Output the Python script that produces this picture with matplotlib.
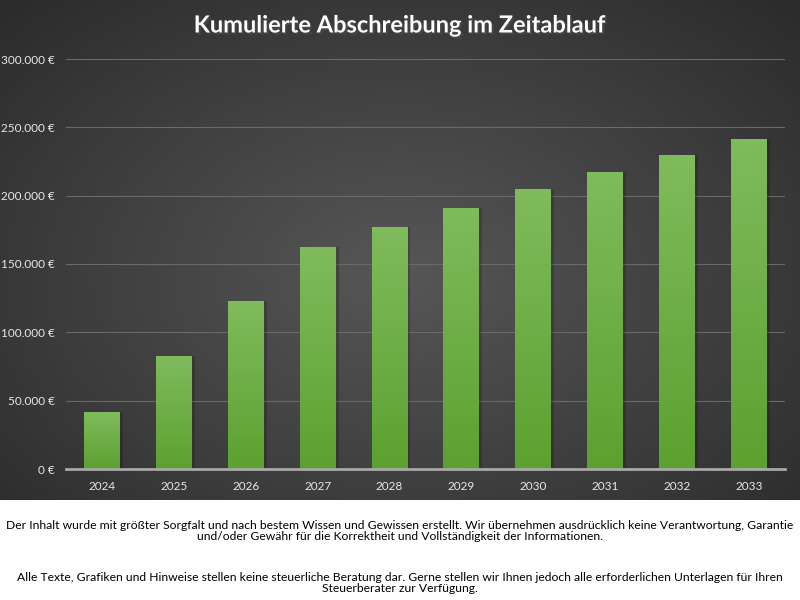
import matplotlib
matplotlib.use("Agg")
import matplotlib.pyplot as plt
import numpy as np
from matplotlib.ticker import FuncFormatter
import matplotlib.patheffects as pe

plt.rcParams['font.family'] = ['Lato', 'DejaVu Sans']

# data
years = ['2024', '2025', '2026', '2027', '2028', '2029', '2030', '2031', '2032', '2033']
cum_abschreibung = [41700, 82700, 122900, 162400, 177100, 191200, 204900, 217600, 230000, 241500]
y_ticks = [0, 50000, 100000, 150000, 200000, 250000, 300000]

title = 'Kumulierte Abschreibung im Zeitablauf'
hinweis_1 = ('Der Inhalt wurde mit größter Sorgfalt und nach bestem Wissen und Gewissen erstellt. '
             'Wir übernehmen ausdrücklich keine Verantwortung, Garantie\n'
             'und/oder Gewähr für die Korrektheit und Vollständigkeit der Informationen.')
hinweis_2 = ('Alle Texte, Grafiken und Hinweise stellen keine steuerliche Beratung dar. '
             'Gerne stellen wir Ihnen jedoch alle erforderlichen Unterlagen für Ihren\n'
             'Steuerberater zur Verfügung.')

fig = plt.figure(figsize=(8, 6), dpi=100)
fig.patch.set_facecolor('white')

# dark radial background for the chart block (top 500 px)
bg = fig.add_axes([0, 1 - 500 / 600, 1, 500 / 600])
gx, gy = np.meshgrid(np.linspace(-1, 1, 400), np.linspace(-1, 1, 250))
r = np.sqrt((gx / 1.0) ** 2 + ((gy - 0.1) / 1.1) ** 2)
shade = 0.34 - 0.17 * np.clip(r, 0, 1.4) / 1.4
bg.imshow(np.dstack([shade, shade, shade]), aspect='auto', extent=[0, 1, 0, 1])
bg.set_axis_off()

ax = fig.add_axes([66 / 800, 1 - 469 / 600, 719 / 800, 410 / 600])
ax.set_facecolor('none')

x = np.arange(len(years))
bars = ax.bar(x, cum_abschreibung, width=0.5, color='#6aad3f', zorder=3)

# vertical green gradient on each bar
grad = np.linspace(0, 1, 256).reshape(-1, 1)
top_c = np.array([0x80, 0xbb, 0x5c]) / 255
bot_c = np.array([0x5c, 0xa1, 0x30]) / 255
grad_img = top_c * (1 - grad[..., None]) + bot_c * grad[..., None]
for b in bars:
    bx, by = b.get_x(), b.get_y()
    w, h = b.get_width(), b.get_height()
    # soft shadow to the right
    ax.bar(bx + w / 2 + 0.04, h, width=w, color='black', alpha=0.18, zorder=2, linewidth=0)
    im = ax.imshow(grad_img, extent=[bx, bx + w, by, by + h], aspect='auto', zorder=4)
    im.set_clip_path(b)

ax.set_xlim(-0.5, len(years) - 0.5)
ax.set_ylim(0, 300000)
ax.set_yticks(y_ticks)
ax.yaxis.set_major_formatter(FuncFormatter(lambda v, p: f'{int(v):,}'.replace(',', '.') + ' €'))
ax.set_xticks(x)
ax.set_xticklabels(years)
ax.tick_params(colors='#e8e8e8', labelsize=8.5, length=0)
ax.tick_params(axis='x', pad=9)
ax.tick_params(axis='y', pad=8)
ax.grid(axis='y', color='#6a6a6a', linewidth=0.8, zorder=1)
for s in ['top', 'right', 'left']:
    ax.spines[s].set_visible(False)
ax.spines['bottom'].set_color('#a8a8a8')
ax.spines['bottom'].set_linewidth(2)
ax.spines['bottom'].set_zorder(5)

fig.text(0.5, 1 - 25 / 600, title, ha='center', va='center', color='white',
         fontsize=17, fontweight='bold',
         path_effects=[pe.withSimplePatchShadow(offset=(1.5, -1.5), alpha=0.6)])

fig.text(0.5, 1 - 531 / 600, hinweis_1, ha='center', va='center', fontsize=8.7,
         color='black', linespacing=1.1)
fig.text(0.5, 1 - 583 / 600, hinweis_2, ha='center', va='center', fontsize=8.7,
         color='black', linespacing=1.1)

fig.savefig('out.png', dpi=100)
